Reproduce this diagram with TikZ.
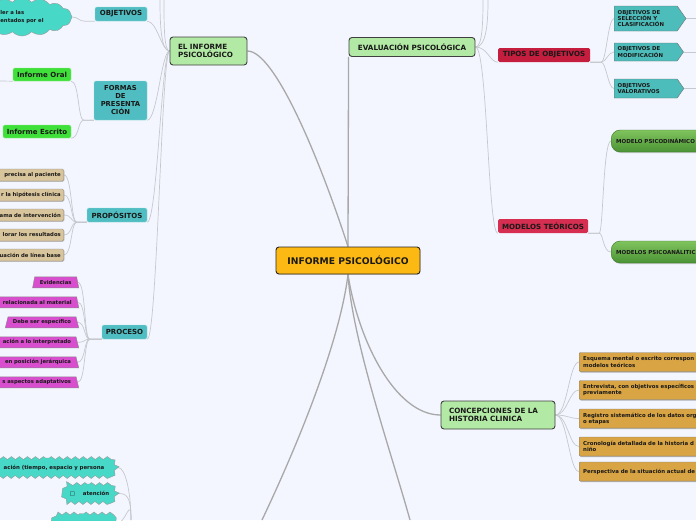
\documentclass[tikz,border=0pt]{standalone}
\usepackage{fontspec}
\setmainfont{DejaVu Sans}
\usetikzlibrary{shapes.geometric,shapes.symbols,shadows,decorations.pathmorphing,backgrounds}

\definecolor{paper}{HTML}{F3F6FE}
\definecolor{rootfill}{HTML}{FDB913}
\definecolor{topicfill}{HTML}{B2E9A4}
\definecolor{tealfill}{HTML}{4FBDC1}
\definecolor{limefill}{HTML}{40E03A}
\definecolor{tanfill}{HTML}{D9C59C}
\definecolor{pinkfill}{HTML}{D94DCF}
\definecolor{redfill}{HTML}{C41D3D}
\definecolor{rosefill}{HTML}{D52E50}
\definecolor{signalfill}{HTML}{4DBDBB}
\definecolor{mustard}{HTML}{D9A443}
\definecolor{aqua}{HTML}{48D8C8}
\definecolor{modtop}{HTML}{80C45E}
\definecolor{modbot}{HTML}{4A9234}
\definecolor{linkgray}{HTML}{C6C8CE}
\definecolor{maingray}{HTML}{A8A8A8}

\newcommand\mmfont[2]{\fontsize{#1}{#2}\selectfont\bfseries}

\tikzset{
  every node/.style={inner sep=0pt, text=black!90},
  root/.style={fill=rootfill, draw=black!85, line width=0.9pt, rounded corners=3pt,
    minimum width=144pt, minimum height=27pt, font=\mmfont{9.2}{11},
    drop shadow={shadow xshift=0.4pt, shadow yshift=-0.8pt, opacity=.3}},
  topic/.style={fill=topicfill, draw=black!75, line width=0.9pt, rounded corners=3pt,
    align=left, inner xsep=8pt, font=\mmfont{7.2}{8.3}},
  branch/.style={fill=tealfill, draw=tealfill!60!white, line width=0.4pt,
    rounded corners=1.5pt, font=\mmfont{7}{8}},
  lime/.style={fill=limefill, draw=limefill!60!white, line width=0.4pt,
    rounded corners=1.5pt, font=\mmfont{7}{8}},
  crimson/.style={rounded corners=1.5pt, font=\mmfont{7.1}{8}},
  tanleaf/.style={fill=tanfill, draw=black!45, line width=0.4pt, rounded corners=1.5pt,
    anchor=east, text width=90pt, align=right, inner xsep=3pt, minimum height=12pt,
    font=\mmfont{5.3}{6},
    drop shadow={shadow xshift=0.5pt, shadow yshift=-0.8pt, opacity=.45}},
  pinkleaf/.style={trapezium, trapezium left angle=63, trapezium right angle=63,
    trapezium stretches body=true, fill=pinkfill, draw=black!45, line width=0.4pt,
    minimum height=11pt, inner xsep=5pt, anchor=bottom right corner,
    text width=90pt, align=right, font=\mmfont{5.3}{6}},
  sigleaf/.style={signal, signal to=east, signal pointer angle=110, fill=signalfill,
    draw=black!55, line width=0.4pt, anchor=west, text width=56pt, align=left,
    inner xsep=3.5pt, font=\mmfont{5.4}{6.4}},
  model/.style={rounded corners=9pt, top color=modtop, bottom color=modbot,
    draw=modbot!80!black, line width=0.4pt, minimum height=22pt, anchor=west,
    text width=100pt, align=left, inner xsep=5pt, font=\mmfont{5.5}{6},
    drop shadow={shadow xshift=0.5pt, shadow yshift=-1pt, opacity=.35}},
  mustleaf/.style={fill=mustard, draw=black!50, line width=0.4pt, rounded corners=1pt,
    anchor=west, text width=150pt, align=left, inner xsep=4pt, font=\mmfont{5.4}{6.2},
    drop shadow={shadow xshift=0.6pt, shadow yshift=-1pt, opacity=.6}},
  burst/.style={signal, signal to=east and west, signal pointer angle=120, fill=aqua,
    draw=black!40, line width=0.4pt, minimum height=19pt, font=\mmfont{5.4}{6},
    decorate, decoration={zigzag, segment length=8pt, amplitude=1.5pt}},
  bubble/.style={cloud, cloud puffs=16, cloud puff arc=95, cloud ignores aspect,
    minimum width=100pt, minimum height=38pt, fill=aqua, draw=black!40, line width=0.4pt,
    align=left, font=\mmfont{5.3}{7.5}},
  link/.style={draw=linkgray, line width=0.7pt},
  mainlink/.style={draw=maingray, line width=1.3pt}
}

\begin{document}
\begin{tikzpicture}[x=1pt, y=-1pt]
    \useasboundingbox (0,0) rectangle (696,520);

    \node[root] (root) at (348,260.5) {INFORME PSICOLÓGICO};
    \node[topic, text width=61pt, minimum height=28pt] (inf) at (208.5,51) {EL INFORME\\PSICOLÓGICO};
    \node[topic, minimum width=126pt, minimum height=19pt] (eval) at (412,47) {EVALUACIÓN PSICOLÓGICA};
    \node[topic, text width=98pt, minimum height=28pt] (hist) at (498,415) {CONCEPCIONES DE LA\\HISTORIA CLINICA};

    % el informe
    \node[branch, minimum width=52pt, minimum height=14pt] (obj) at (121,14) {OBJETIVOS};
    \node[branch, text width=45pt, minimum width=53pt, align=center, minimum height=39pt,
      font=\mmfont{6.8}{8}] (formas) at (120.5,100.5) {FORMAS\\DE\\PRESENTA\\CIÓN};
    \node[branch, minimum width=60pt, minimum height=14pt] (prop) at (117,215) {PROPÓSITOS};
    \node[branch, minimum width=45pt, minimum height=14pt] (proc) at (124.5,332) {PROCESO};

    \node[bubble] (nube) at (22,17) {ler a las\\entados por el};
    \node[lime, minimum width=58pt, minimum height=13pt] (oral) at (42,74.5) {Informe Oral};
    \node[lime, minimum width=68pt, minimum height=13pt] (escrito) at (37,131.5) {Informe Escrito};

    \foreach \t [count=\i] in {precisa al paciente, r la hipótesis clínica, ama de intervención,
        lorar los resultados, uación de línea base}
      \node[tanleaf] (p\i) at (64,155+20*\i) {\t};

    \node[pinkleaf, text width=38pt, inner xsep=2pt, align=center] (r1) at (79,288) {Evidencias};
    \node[pinkleaf, text width=64pt, inner xsep=2pt, align=center] (r3) at (79,328) {Debe ser específico};
    \foreach \i/\t in {2/relacionada al material, 4/ación a lo interpretado,
        5/en posición jerárquica, 6/s aspectos adaptativos}
      \node[pinkleaf] (r\i) at (79,268+20*\i) {\t};

    \node[burst, anchor=east, text width=110pt, align=right, inner xsep=8pt] (b1) at (118,467.5)
      {ación (tiempo, espacio y persona};
    \node[burst, anchor=east, inner xsep=3pt] (b2) at (118,493.5) {□\hspace{8pt}atención};
    \node[burst, minimum width=67pt] (b3) at (84,523) {};

    % evaluacion
    \node[crimson, fill=redfill, minimum width=92pt, minimum height=14pt] (tipos) at (544,55) {TIPOS DE OBJETIVOS};
    \node[crimson, fill=rosefill, minimum width=90pt, minimum height=14pt] (teor) at (543,226) {MODELOS TEÓRICOS};

    \node[sigleaf, minimum height=25pt] (s1) at (614,18.5) {OBJETIVOS DE\\SELECCIÓN Y\\CLASIFICACIÓN};
    \node[sigleaf, minimum height=18pt] (s2) at (614,52) {OBJETIVOS DE\\MODIFICACIÓN};
    \node[sigleaf, minimum height=19pt] (s3) at (614,88.5) {OBJETIVOS\\VALORATIVOS};

    \node[model] (m1) at (611,141) {MODELO PSICODINÁMICO};
    \node[model] (m2) at (611,252) {MODELOS PSICOANÁLITIC};

    % historia
    \foreach \y/\t [count=\i] in {362/{Esquema mental o escrito correspon\\modelos teóricos},
        {390/Entrevista, con objetivos específicos\\previamente},
        418.5/{Registro sistemático de los datos org\\o etapas},
        446.5/{Cronología detallada de la historia d\\niño},
        471.5/{Perspectiva de la situación actual de}}
      \node[mustleaf, minimum height=19pt] (c\i) at (579,\y) {\t};

    \coordinate (upA) at (160,0);
    \coordinate (upB) at (164,0);
    \coordinate (upC) at (483,0);
    \coordinate (upD) at (488,0);
    \coordinate (downL) at (262,520);
    \coordinate (downR) at (410,520);
    \coordinate (downB) at (131,520);
    \coordinate (offL) at (0,81);

    \begin{scope}[on background layer]
    \fill[paper] (0,0) rectangle (696,520);

    \draw[mainlink] (root.north) .. controls (320,160) and (275,51) .. (inf.east);
    \draw[mainlink] (root.north) -- (eval.south west);
    \draw[mainlink] (root.south) .. controls (358,340) and (395,415) .. (hist.west);
    \draw[mainlink] (root.south) .. controls (340,340) and (300,440) .. (downL);
    \draw[mainlink] (root.south) .. controls (352,340) and (392,455) .. (downR);

    \draw[link] (inf.west) .. controls (161,51) and (160,25) .. (upA);
    \draw[link] (inf.west) .. controls (164,51) and (164,25) .. (upB);
    \foreach \n in {obj,formas,prop,proc}
      \draw[link] (\n.south east) .. controls +(10,0) and +(-8,0) .. (inf.west);

    \draw[link] (obj.south west) -- ++(-10,0) .. controls +(-6,0) and +(6,0) .. (nube.east);
    \draw[link] (formas.south west) -- ++(-10,0) .. controls +(-6,0) and +(8,0) .. (oral.south east);
    \draw[link] (formas.south west) -- ++(-10,0) .. controls +(-6,0) and +(8,0) .. (escrito.south east);
    \draw[link] (oral.south west) -- (offL);
    \foreach \i in {1,...,5}
      \draw[link] (prop.south west) -- ++(-10,0) .. controls +(-6,0) and +(8,0) .. (p\i.east);
    \foreach \i in {1,...,6}
      \draw[link] (proc.south west) -- ++(-12,0) .. controls +(-6,0) and +(8,0) .. (r\i.east);
    \foreach \n in {b1,b2,b3}
      \draw[link] (\n.east) .. controls +(8,0) and +(0,-25) .. (downB);

    \draw[link] (eval.east) .. controls (482,47) and (483,25) .. (upC);
    \draw[link] (eval.east) .. controls (486,47) and (488,25) .. (upD);
    \draw[link] (eval.east) .. controls +(12,0) and +(-8,0) .. (tipos.south west);
    \draw[link] (eval.east) .. controls +(12,0) and +(-10,0) .. (teor.south west);
    \foreach \i in {1,2,3} {
      \draw[link] (tipos.south east) -- ++(11,0) .. controls +(5,0) and +(-6,0) .. (s\i.west);
      \draw[link] (s\i.east) -- ++(12,0);
    }
    \foreach \i in {1,2}
      \draw[link] (teor.south east) -- ++(11,0) .. controls +(4,0) and +(-8,0) .. (m\i.west);
    \foreach \i in {1,...,5}
      \draw[link] (hist.east) .. controls +(12,0) and +(-10,0) .. (c\i.west);
    \end{scope}
\end{tikzpicture}
\end{document}
